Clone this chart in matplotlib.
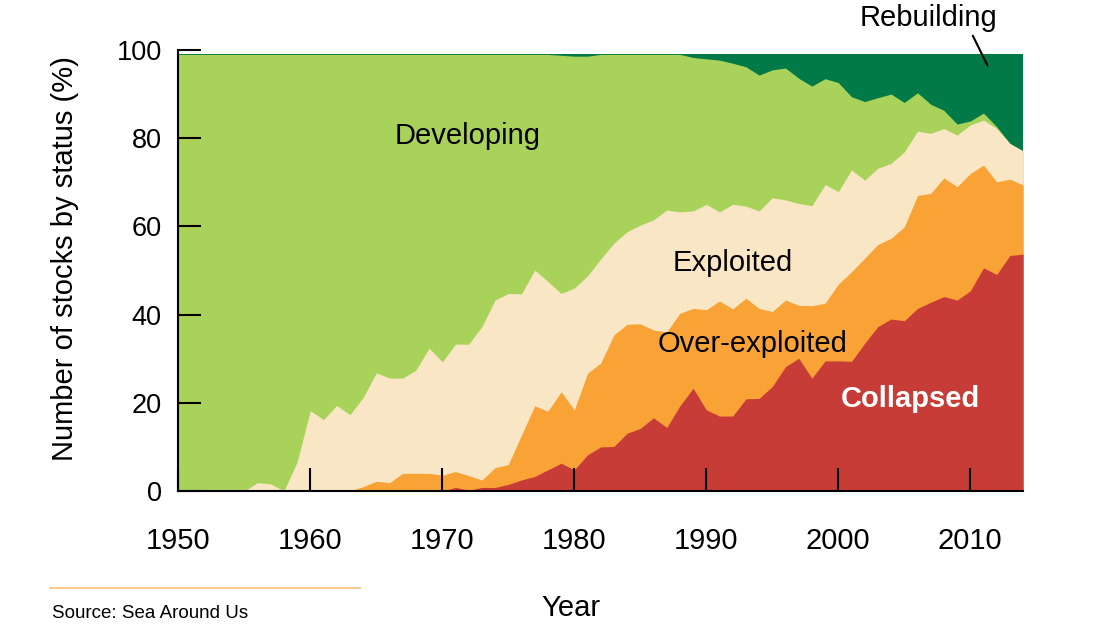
import matplotlib
matplotlib.use("Agg")
import matplotlib.pyplot as plt
from matplotlib.lines import Line2D

plt.rcParams['font.family'] = ['Liberation Sans', 'DejaVu Sans']

years = list(range(1950, 2015))

# Upper boundary of each stacked status band (% of stocks)
collapsed_top = [0]*20 + [
    0.0, 0.8, 0.2, 0.8, 0.8, 1.5, 2.5, 3.3, 4.8, 6.3,          # 1970-1979
    4.8, 8.2, 10.0, 10.1, 13.1, 14.2, 16.6, 14.4, 19.3, 23.3,  # 1980-1989
    18.4, 17.0, 17.0, 20.9, 21.0, 23.7, 28.2, 30.1, 25.6, 29.5,  # 1990-1999
    29.5, 29.4, 33.5, 37.3, 39.0, 38.6, 41.4, 42.8, 44.1, 43.3,  # 2000-2009
    45.4, 50.6, 49.1, 53.4, 53.7]                                # 2010-2014

overexploited_top = [0]*14 + [
    1.0, 2.2, 1.9, 4.0, 4.0, 4.0,                                # 1964-1969
    3.6, 4.4, 3.5, 2.5, 5.3, 6.0, 12.7, 19.3, 18.1, 22.5,        # 1970-1979
    18.4, 26.7, 29.0, 35.4, 37.8, 37.9, 36.5, 36.1, 40.3, 41.4,  # 1980-1989
    41.1, 43.1, 41.3, 43.7, 41.4, 40.7, 43.3, 42.1, 42.0, 42.6,  # 1990-1999
    46.9, 49.7, 52.8, 55.9, 57.3, 59.9, 67.0, 67.5, 71.0, 69.0,  # 2000-2009
    72.0, 73.9, 70.1, 70.7, 69.4]                                # 2010-2014

exploited_top = [0]*6 + [
    1.9, 1.6, 0.0, 6.6,                                          # 1956-1959
    18.2, 16.2, 19.4, 17.3, 21.2, 26.8, 25.6, 25.6, 27.4, 32.4,  # 1960-1969
    29.3, 33.3, 33.3, 37.3, 43.3, 44.8, 44.7, 50.1, 47.5, 44.8,  # 1970-1979
    46.0, 48.8, 52.6, 56.2, 58.8, 60.3, 61.5, 63.7, 63.3, 63.5,  # 1980-1989
    65.0, 63.3, 65.0, 64.6, 63.5, 66.5, 66.0, 65.2, 64.7, 69.5,  # 1990-1999
    67.9, 72.8, 70.5, 73.2, 74.3, 76.9, 81.6, 81.1, 82.2, 80.7,  # 2000-2009
    83.0, 84.1, 82.2, 78.8, 77.1]                                # 2010-2014

developing_top = [99]*29 + [
    98.8,                                                        # 1979
    98.6, 98.6, 99, 99, 99, 99, 99, 99, 99, 98.3,                # 1980-1989
    98.0, 97.7, 97.0, 96.2, 94.3, 95.5, 95.9, 93.6, 91.8, 93.5,  # 1990-1999
    92.6, 89.4, 88.3, 89.2, 90.0, 88.1, 90.3, 87.7, 86.3, 83.2,  # 2000-2009
    83.9, 85.7, 82.6, 78.8, 77.1]                                # 2010-2014

rebuilding_top = [99]*65

statuses = ['Rebuilding', 'Developing', 'Exploited', 'Over-exploited', 'Collapsed']
colors = ['#027A47', '#A9D25A', '#F8E6C4', '#F9A236', '#C73C36']
tops = [rebuilding_top, developing_top, exploited_top, overexploited_top, collapsed_top]

W, H = 1114, 631
fig = plt.figure(figsize=(W/100, H/100), dpi=100)
ax = fig.add_axes([178.3/W, 1-491/H, (1023.1-178.3)/W, (491-50)/H])

for name, col, top in zip(statuses, colors, tops):
    ax.fill_between(years, 0, top, color=col, linewidth=0, label=name)

ax.set_xlim(1950, 2014)
ax.set_ylim(0, 100)
ax.set_xticks([1950, 1960, 1970, 1980, 1990, 2000, 2010])
ax.set_yticks([0, 20, 40, 60, 80, 100])
for s in ['top', 'right']:
    ax.spines[s].set_visible(False)
for s in ['left', 'bottom']:
    ax.spines[s].set_linewidth(1.5)
    ax.spines[s].set_zorder(5)
ax.tick_params(axis='both', direction='in', length=16.5, width=1.5, color='black', zorder=6)
ax.tick_params(axis='y', labelsize=19.5, pad=12)
ax.tick_params(axis='x', labelsize=21, pad=26)
for t in ax.get_xticklines() + ax.get_yticklines():
    t.set_zorder(6)

# Band labels
ax.text(1971.95, 78.6, 'Developing', fontsize=21, ha='center', va='baseline', color='black')
ax.text(1991.97, 49.9, 'Exploited', fontsize=21, ha='center', va='baseline', color='black')
ax.text(1993.54, 31.6, 'Over-exploited', fontsize=21, ha='center', va='baseline', color='black')
ax.text(2005.45, 19.1, 'Collapsed', fontsize=21, ha='center', va='baseline', color='white',
        fontweight='bold')
ax.text(2006.8, 105.4, 'Rebuilding', fontsize=21, ha='center', va='baseline', color='black',
        clip_on=False)
ax.annotate('', xy=(2011.4, 95.9), xytext=(2010.1, 103.8),
            arrowprops=dict(arrowstyle='-', lw=1.5, color='black'),
            annotation_clip=False)

# Axis titles
fig.text(65/W, 1-259/H, 'Number of stocks by status (%)', rotation=90, fontsize=21,
         ha='center', va='center')
fig.text(571/W, 1-616/H, 'Year', fontsize=21, ha='center', va='baseline')

# Source line
fig.add_artist(Line2D([50/W, 360/W], [1-588.3/H, 1-588.3/H], color='#FBBE78', lw=1.2))
fig.text(52/W, 1-618/H, 'Source: Sea Around Us', fontsize=13.5, ha='left', va='baseline')

fig.savefig('out.png', dpi=100)
